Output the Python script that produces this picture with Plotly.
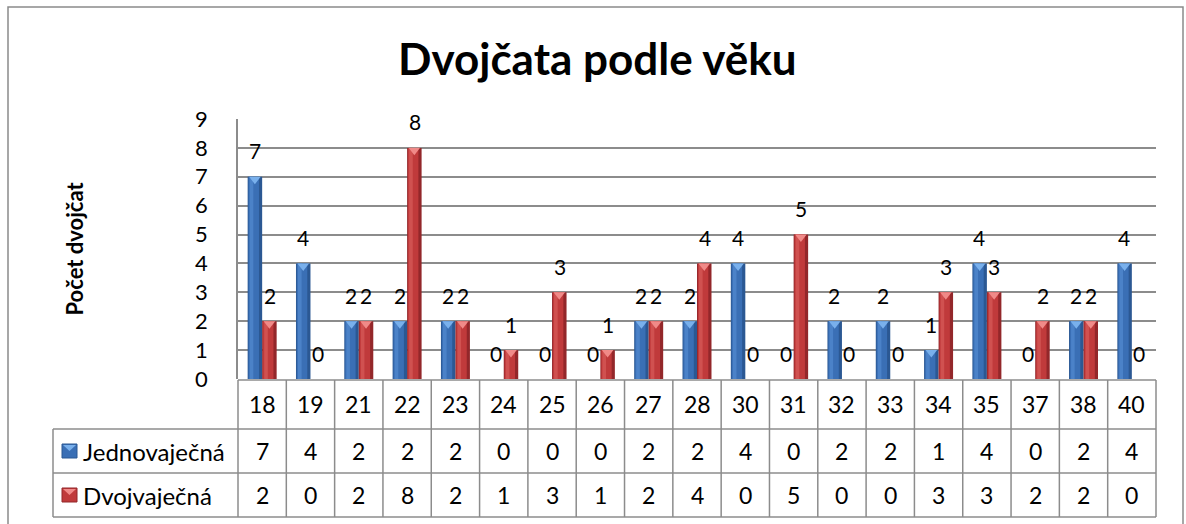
import plotly.graph_objects as go

categories = ["18", "19", "21", "22", "23", "24", "25", "26", "27", "28",
              "30", "31", "32", "33", "34", "35", "37", "38", "40"]
jedno = [7, 4, 2, 2, 2, 0, 0, 0, 2, 2, 4, 0, 2, 2, 1, 4, 0, 2, 4]
dvoj = [2, 0, 2, 8, 2, 1, 3, 1, 2, 4, 0, 5, 0, 0, 3, 3, 2, 2, 0]
series_names = ["Jednovaječná", "Dvojvaječná"]
title_text = "Dvojčata podle věku"
y_title = "Počet dvojčat"

W, H = 1186, 524
FONT = "Lato"
GRID = "#8c8c8c"
# (dark edge, main, highlight, cap) per series
BLUE = ("#2b5893", "#3a6fb5", "#4b82c8", "#79b0ec")
RED = ("#93272a", "#c03a3b", "#d05150", "#f08a88")

px_left, px_right = 238, 1156
py_top, py_bot = 119, 379
n = len(categories)
CAP_DROP = 0.085  # cap centre sits slightly under the bar top (in value units)


def px(x):
    return x / W


def py(y):
    return 1 - y / H


fig = go.Figure()
BW = 0.3  # bar width in category units (group width 0.6)
for vals, pal, off, name in ((jedno, BLUE, -BW, series_names[0]), (dvoj, RED, 0.0, series_names[1])):
    fig.add_trace(go.Bar(x=categories, y=vals, name=name, width=BW, offset=off,
                         marker=dict(color=pal[0], line=dict(width=0)), hoverinfo="skip"))
    fig.add_trace(go.Bar(x=categories, y=vals, name=name, width=BW * 0.72, offset=off + BW * 0.06,
                         marker=dict(color=pal[1], line=dict(width=0)), hoverinfo="skip"))
    fig.add_trace(go.Bar(x=categories, y=vals, name=name, width=BW * 0.25, offset=off + BW * 0.14,
                         marker=dict(color=pal[2], line=dict(width=0)), hoverinfo="skip"))
    cx = [i + off + BW / 2 for i in range(n) if vals[i] > 0]
    cy = [v - CAP_DROP for v in vals if v > 0]
    fig.add_trace(go.Scatter(x=cx, y=cy, xaxis="x2", mode="markers", hoverinfo="skip",
                             marker=dict(symbol="triangle-down", size=10, color=pal[3],
                                         line=dict(width=0)),
                             showlegend=False))

ann = []
for i, c in enumerate(categories):
    for vals, sh in ((jedno, -7.5), (dvoj, 7.5)):
        ann.append(dict(x=i, y=vals[i], xref="x", yref="y", text=str(vals[i]),
                        showarrow=False, xshift=sh, yshift=26, yanchor="middle",
                        font=dict(family=FONT, size=21, color="black")))

shapes = []
shapes.append(dict(type="rect", xref="paper", yref="paper",
                   x0=px(8), x1=px(1183), y0=py(530), y1=py(7),
                   line=dict(color="#8a8a8a", width=1.5)))

row_y = [380, 429, 473, 517]
lc = dict(color=GRID, width=1.5)
shapes.append(dict(type="line", xref="paper", yref="paper", x0=px(px_left), x1=px(px_right),
                   y0=py(row_y[0]), y1=py(row_y[0]), line=lc))
for yy in row_y[1:]:
    shapes.append(dict(type="line", xref="paper", yref="paper", x0=px(53), x1=px(px_right),
                       y0=py(yy), y1=py(yy), line=lc))
for k in range(n + 1):
    shapes.append(dict(type="line", xref="x domain", yref="paper", x0=k / n, x1=k / n,
                       y0=py(row_y[0]), y1=py(row_y[3]), line=lc))
shapes.append(dict(type="line", xref="paper", yref="paper", x0=px(53), x1=px(53),
                   y0=py(row_y[1]), y1=py(row_y[3]), line=lc))

for i, c in enumerate(categories):
    for yy, txt in ((404, c), (451, str(jedno[i])), (495, str(dvoj[i]))):
        ann.append(dict(x=i, xref="x", y=py(yy), yref="paper", text=txt, showarrow=False,
                        yanchor="middle", font=dict(family=FONT, size=23, color="black")))

for yy, name, pal in ((451, series_names[0], BLUE), (495, series_names[1], RED)):
    shapes.append(dict(type="rect", xref="paper", yref="paper", x0=px(62), x1=px(77),
                       y0=py(yy + 7), y1=py(yy - 7), fillcolor=pal[1],
                       line=dict(color=pal[0], width=1)))
    shapes.append(dict(type="path", xref="paper", yref="paper",
                       path="M %f,%f L %f,%f L %f,%f Z" % (px(63), py(yy - 6), px(76), py(yy - 6),
                                                           px(69.5), py(yy)),
                       fillcolor=pal[3], line=dict(width=0)))
    ann.append(dict(x=px(81), y=py(yy), xref="paper", yref="paper", text=name, showarrow=False,
                    xanchor="left", yanchor="middle", font=dict(family=FONT, size=24, color="black")))

ann.append(dict(x=px(597), y=py(58), xref="paper", yref="paper", text="<b>" + title_text + "</b>",
                showarrow=False, yanchor="middle", font=dict(family=FONT, size=44, color="black")))
ann.append(dict(x=px(58), y=py(249), xref="paper", yref="paper", text="<b>" + y_title + "</b>",
                showarrow=False, textangle=-90, font=dict(family=FONT, size=22, color="black")))

fig.update_layout(
    width=W, height=H, margin=dict(l=0, r=0, t=0, b=0, pad=0),
    paper_bgcolor="white", plot_bgcolor="white",
    barmode="overlay", showlegend=False,
    annotations=ann, shapes=shapes,
    xaxis=dict(type="category", domain=[px(px_left), px(px_right)], range=[-0.5, n - 0.5],
               showticklabels=False, showgrid=False, zeroline=False, showline=False,
               ticks="", automargin=False),
    xaxis2=dict(overlaying="x", type="linear", range=[-0.5, n - 0.5], visible=False,
                automargin=False),
    yaxis=dict(domain=[py(py_bot), py(py_top)], range=[0, 9], dtick=1,
               showgrid=True, gridcolor=GRID, gridwidth=1.5,
               showline=True, linecolor=GRID, linewidth=1.5, zeroline=False,
               ticks="", ticklabelstandoff=24, automargin=False,
               tickfont=dict(family=FONT, size=22, color="black")),
)
fig.write_html("out.html", config={"displayModeBar": False},
               post_script="document.body.style.margin='0';")
